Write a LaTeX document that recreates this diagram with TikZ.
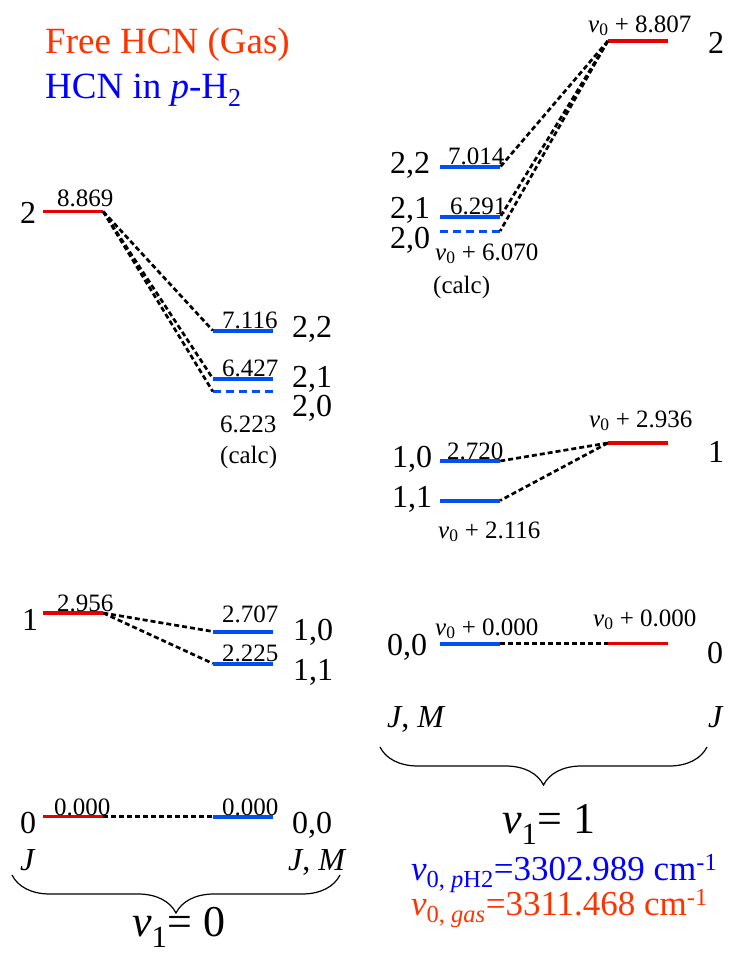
\documentclass[tikz,border=0pt]{standalone}
\usepackage{fontspec}
\setmainfont{Liberation Serif}
\usetikzlibrary{decorations.pathreplacing}
\definecolor{gasred}{RGB}{232,0,0}
\definecolor{phblue}{RGB}{0,80,240}
\definecolor{gastext}{RGB}{255,51,0}
\definecolor{phtext}{RGB}{0,0,255}
\newcommand{\vz}{\textit{v}\textsubscript{0}}

\begin{document}
\begin{tikzpicture}[x=1pt, y=-1pt,
    gas/.style={fill=gasred, inner sep=0, minimum width=60pt, minimum height=3.5pt},
    ph/.style={fill=phblue, inner sep=0, minimum width=60pt, minimum height=4pt},
    calclvl/.style={inner sep=0, minimum width=60pt, minimum height=0pt},
    calcline/.style={draw=phblue, line width=3pt, dash pattern=on 8pt off 5pt},
    link/.style={draw, line width=2.7pt, dash pattern=on 5pt off 3pt},
    val/.style={font=\fontsize{25}{27}\selectfont, inner sep=0, anchor=base west},
    big/.style={font=\fontsize{32}{34}\selectfont, inner sep=0, anchor=base west},
    vib/.style={font=\fontsize{44}{46}\selectfont, inner sep=0, anchor=base west},
    brace/.style={decorate, decoration={brace, mirror, amplitude=38pt}, line width=1.2pt}
]
\useasboundingbox (0,0) rectangle (732,953);

% legend
\node[font=\fontsize{37}{39}\selectfont, text=gastext, inner sep=0, anchor=base west] (leggas) at (45,53) {Free HCN (Gas)};
\node[font=\fontsize{37}{39}\selectfont, text=phtext, inner sep=0, anchor=base west] (legph) at (45,98) {HCN in \textit{p}-H\textsubscript{2}};

%% v1 = 0 : gas left, p-H2 right
\node[gas] (g2) at (73,211.5) {};
\node[ph] (p22) at (243,330.5) {};
\node[ph] (p21) at (243,378.5) {};
\node[calclvl] (p20) at (243,391.5) {};
\draw[calcline] (p20.west) -- (p20.east);
\draw[link] (g2.east) -- (p22.west);
\draw[link] (g2.east) -- (p21.west);
\draw[link] (g2.east) -- (p20.west);

\node[big] (g2j) at (20,223) {2};
\node[val] (g2v) at (57,206) {8.869};
\node[val] (p22v) at (222,328) {7.116};
\node[val] (p21v) at (222,376) {6.427};
\node[val] (p20v) at (220,432) {6.223};
\node[val] (p20c) at (220,463) {(calc)};
\node[big] (p22j) at (292,337) {2,2};
\node[big] (p21j) at (292,387) {2,1};
\node[big] (p20j) at (292,416) {2,0};

\node[gas] (g1) at (73,613) {};
\node[ph] (p10) at (243,631.5) {};
\node[ph] (p11) at (243,663.5) {};
\draw[link] (g1.east) -- (p10.west);
\draw[link] (g1.east) -- (p11.west);

\node[big] (g1j) at (22,630) {1};
\node[val] (g1v) at (57,611) {2.956};
\node[val] (p10v) at (222,622) {2.707};
\node[val] (p11v) at (222,661) {2.225};
\node[big] (p10j) at (293,640) {1,0};
\node[big] (p11j) at (293,680) {1,1};

\node[gas] (g0) at (73,816.5) {};
\node[ph] (p00) at (243,816.5) {};
\draw[link] (g0.east) -- (p00.west);

\node[big] (g0j) at (20,833) {0};
\node[val] (g0v) at (54,815) {0.000};
\node[val] (p00v) at (222,815) {0.000};
\node[big] (p00j) at (292,833) {0,0};
\node[big] (jleft) at (20,870) {\textit{J}};
\node[big] (jmleft) at (288,870) {\textit{J}, \textit{M}};

\coordinate (b0w) at (12,875);
\coordinate (b0e) at (340,875);
\draw[brace] (b0w) -- (b0e);
\node[vib] (vib0) at (132,936) {\textit{v}\textsubscript{1}= 0};

%% v1 = 1 : p-H2 left, gas right
\node[gas] (r2) at (638,41) {};
\node[ph] (q22) at (470,167) {};
\node[ph] (q21) at (470,217) {};
\node[calclvl] (q20) at (470,231) {};
\draw[calcline] (q20.west) -- (q20.east);
\draw[link] (r2.west) -- (q22.east);
\draw[link] (r2.west) -- (q21.east);
\draw[link] (r2.west) -- (q20.east);

\node[val] (r2v) at (588,32) {\vz{} + 8.807};
\node[big] (r2j) at (708,53) {2};
\node[val] (q22v) at (448,164) {7.014};
\node[val] (q21v) at (450,214) {6.291};
\node[val] (q20v) at (435,260) {\vz{} + 6.070};
\node[val] (q20c) at (433,293) {(calc)};
\node[big] (q22j) at (390,173) {2,2};
\node[big] (q21j) at (390,218) {2,1};
\node[big] (q20j) at (390,248) {2,0};

\node[gas] (r1) at (638,443) {};
\node[ph] (q10) at (470,461) {};
\node[ph] (q11) at (470,500.5) {};
\draw[link] (r1.west) -- (q10.east);
\draw[link] (r1.west) -- (q11.east);

\node[val] (r1v) at (589,427) {\vz{} + 2.936};
\node[big] (r1j) at (708,462) {1};
\node[val] (q10v) at (447,459) {2.720};
\node[val] (q11v) at (438,538) {\vz{} + 2.116};
\node[big] (q10j) at (392,467) {1,0};
\node[big] (q11j) at (392,507) {1,1};

\node[ph] (q00) at (470,643.5) {};
\node[gas] (r0) at (638,643.5) {};
\draw[link] (q00.east) -- (r0.west);

\node[val] (q00v) at (435,635) {\vz{} + 0.000};
\node[val] (r0v) at (593,626) {\vz{} + 0.000};
\node[big] (q00j) at (387,655) {0,0};
\node[big] (r0j) at (707,663) {0};
\node[big] (jmright) at (387,727) {\textit{J}, \textit{M}};
\node[big] (jright) at (708,727) {\textit{J}};

\coordinate (b1w) at (380,747);
\coordinate (b1e) at (707,747);
\draw[brace] (b1w) -- (b1e);
\node[vib] (vib1) at (502,833) {\textit{v}\textsubscript{1}= 1};

\node[font=\fontsize{35}{37}\selectfont, text=phtext, inner sep=0, anchor=base west] (nuph) at (411,880)
  {\textit{v}\textsubscript{0, \textit{p}H2}=3302.989 cm\textsuperscript{-1}};
\node[font=\fontsize{35}{37}\selectfont, text=gastext, inner sep=0, anchor=base west] (nugas) at (411,915)
  {\textit{v}\textsubscript{0, \textit{gas}}=3311.468 cm\textsuperscript{-1}};
\end{tikzpicture}
\end{document}
